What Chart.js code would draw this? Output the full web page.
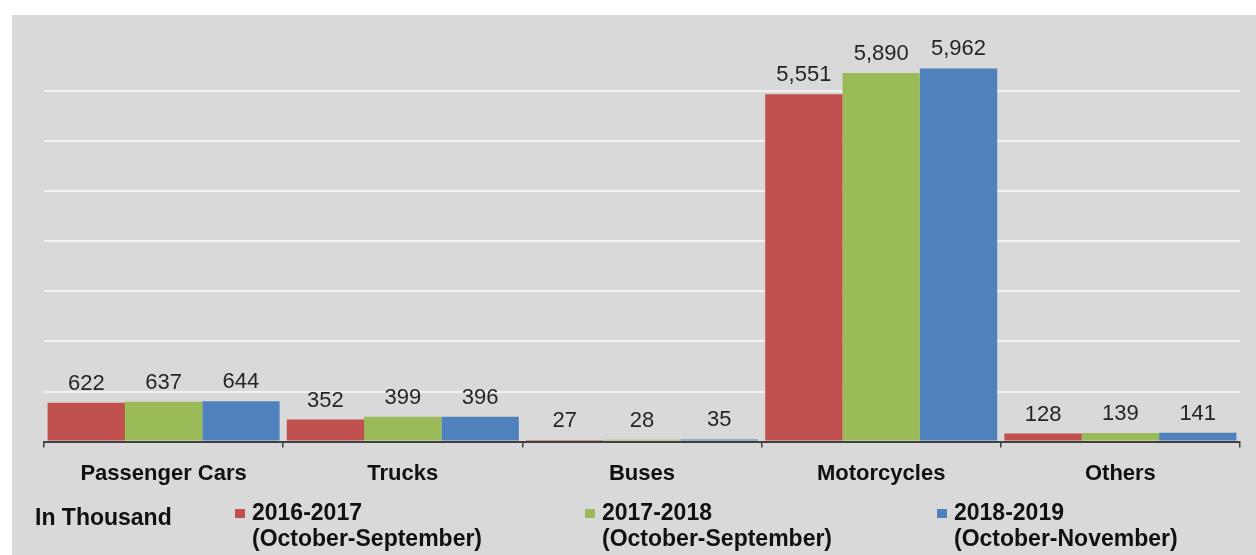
<!DOCTYPE html>
<html>
<head>
<meta charset="utf-8">
<script src="https://cdn.jsdelivr.net/npm/chart.js@4/dist/chart.umd.min.js"></script>
<style>
  html, body { margin: 0; padding: 0; background: #ffffff; }
  #wrap { width: 1256px; height: 555px; position: relative; }
</style>
</head>
<body>
<div id="wrap"><canvas id="myChart" width="1256" height="555"></canvas></div>
<script>
// vehicle sales, in thousand
let categories = ["Passenger Cars", "Trucks", "Buses", "Motorcycles", "Others"];
let sales_2016_2017 = [622, 352, 27, 5551, 128];
let sales_2017_2018 = [637, 399, 28, 5890, 139];
let sales_2018_2019 = [644, 396, 35, 5962, 141];
let series_years = ["2016-2017", "2017-2018", "2018-2019"];
let series_periods = ["(October-September)", "(October-September)", "(October-November)"];
let unit_label = "In Thousand";

const FONT = "'Liberation Sans', Arial, sans-serif";
const colors = ["#c0504d", "#9bbb59", "#4f81bd"];

// gray panel behind the chart
const background = {
  id: "background",
  beforeDraw(chart) {
    let ctx = chart.ctx;
    ctx.save();
    ctx.fillStyle = "#ffffff";
    ctx.fillRect(0, 0, chart.width, chart.height);
    ctx.fillStyle = "#d9d9d9";
    ctx.fillRect(12, 15, chart.width - 12, chart.height - 15);
    ctx.restore();
  },
};

// value labels over the bars
const valueLabels = {
  id: "valueLabels",
  afterDatasetsDraw(chart) {
    let ctx = chart.ctx;
    ctx.save();
    ctx.font = "22px " + FONT;
    ctx.fillStyle = "#262626";
    ctx.textAlign = "center";
    ctx.textBaseline = "bottom";
    chart.data.datasets.forEach((ds, i) => {
      chart.getDatasetMeta(i).data.forEach((bar, j) => {
        ctx.fillText(ds.data[j].toLocaleString("en-US"), bar.x, bar.y - 8);
      });
    });
    ctx.restore();
  },
};

// legend at the bottom, two line labels
const bottomLegend = {
  id: "bottomLegend",
  afterDraw(chart) {
    let ctx = chart.ctx;
    ctx.save();
    ctx.font = "bold 23px " + FONT;
    ctx.fillStyle = "#111111";
    ctx.textBaseline = "middle";
    ctx.textAlign = "left";
    ctx.fillText(unit_label, 35, 519);
    let xs = [235, 585, 937];
    chart.data.datasets.forEach((ds, i) => {
      let x = xs[i];
      ctx.fillStyle = ds.backgroundColor;
      ctx.fillRect(x, 509, 10, 9);
      ctx.fillStyle = "#111111";
      ctx.fillText(series_years[i], x + 17, 514);
      ctx.fillText(series_periods[i], x + 17, 540);
    });
    ctx.restore();
  },
};

let config = {
  type: "bar",
  data: {
    labels: categories,
    datasets: [
      { label: series_years[0], data: sales_2016_2017, backgroundColor: colors[0] },
      { label: series_years[1], data: sales_2017_2018, backgroundColor: colors[1] },
      { label: series_years[2], data: sales_2018_2019, backgroundColor: colors[2] },
    ],
  },
  options: {
    responsive: false,
    animation: false,
    layout: { padding: { top: 41, left: 44, right: 16, bottom: 55 } },
    datasets: { bar: { categoryPercentage: 0.97, barPercentage: 1.0, borderWidth: 0 } },
    plugins: {
      legend: { display: false },
      tooltip: { enabled: false },
    },
    scales: {
      x: {
        grid: {
          offset: true,
          drawOnChartArea: false,
          drawTicks: true,
          tickLength: 6,
          color: "#404040",
          lineWidth: 1.5,
        },
        border: { display: true, color: "#404040", width: 2 },
        ticks: {
          padding: 13,
          color: "#111111",
          font: { family: FONT, size: 22, weight: "bold" },
          maxRotation: 0,
        },
      },
      y: {
        min: 0,
        max: 6400,
        ticks: { display: false, stepSize: 800 },
        border: { display: false },
        grid: {
          drawTicks: false,
          lineWidth: 2,
          color: (c) => (c.tick.value === 0 || c.tick.value === 6400 ? "rgba(0,0,0,0)" : "#f2f2f2"),
        },
      },
    },
  },
  plugins: [background, valueLabels, bottomLegend],
};

new Chart(document.getElementById("myChart"), config);
</script>
</body>
</html>
